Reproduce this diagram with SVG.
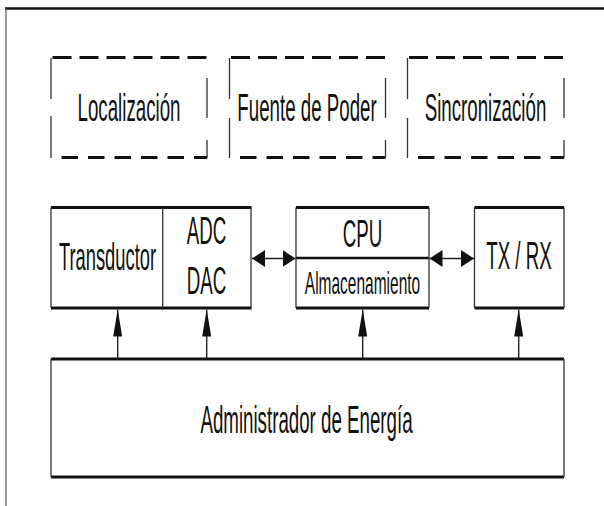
<svg xmlns="http://www.w3.org/2000/svg" width="604" height="506" viewBox="0 0 604 506">
<style>
  .bg{fill:#ffffff}
  .frameT{stroke:#111;stroke-width:2.3;fill:none}
  .frameL{stroke:#555;stroke-width:1.2;fill:none}
  .hz{stroke:#111;stroke-width:2.8;fill:none}
  .vt{stroke:#333;stroke-width:1.3;fill:none}
  .dt{stroke:#111;stroke-width:3;stroke-dasharray:19 8;fill:none}
  .db{stroke:#111;stroke-width:3;stroke-dasharray:16.5 10;fill:none}
  .ds{stroke:#333;stroke-width:1.3;fill:none}
  .conn{stroke:#222;stroke-width:1.4;fill:none}
  .t{font-family:"Liberation Sans",Arial,sans-serif;font-size:39px;fill:#111;text-anchor:middle}
  .ts{font-family:"Liberation Sans",Arial,sans-serif;font-size:31px;fill:#111;text-anchor:middle}
</style>
<defs>
  <marker id="ah" viewBox="0 0 13 17" refX="13" refY="8.5" markerWidth="13" markerHeight="17" markerUnits="userSpaceOnUse" orient="auto-start-reverse">
    <path d="M0,0 L13,8.5 L0,17 z" fill="#111"/>
  </marker>
  <marker id="av" viewBox="0 0 27 9" refX="27" refY="4.5" markerWidth="27" markerHeight="9" markerUnits="userSpaceOnUse" orient="auto">
    <path d="M0,0 L27,4.5 L0,9 z" fill="#111"/>
  </marker>
</defs>
<rect class="bg" x="0" y="0" width="604" height="506"/>
<g id="frame">
  <path class="frameT" d="M5,8.5 H604"/>
  <path class="frameL" d="M6,8 V506"/>
</g>

<g id="localizacion">
  <path class="dt" d="M52.5,57.5 H207"/>
  <path class="db" d="M61.5,157.5 H207"/>
  <path class="ds" d="M51,58 V99 M51,116 V158"/>
  <path class="ds" d="M207,78 V118 M207,140 V158"/>
  <text class="t" transform="translate(129,120.7) scale(0.48,1)">Localización</text>
</g>
<g id="fuente">
  <path class="dt" d="M231,57.5 H385.5"/>
  <path class="db" d="M240,157.5 H385.5"/>
  <path class="ds" d="M229.5,58 V99 M229.5,118 V158"/>
  <path class="ds" d="M385.5,78 V118 M385.5,140 V158"/>
  <text class="t" transform="translate(307,120.7) scale(0.48,1)">Fuente de Poder</text>
</g>
<g id="sincronizacion">
  <path class="dt" d="M409,57.5 H564"/>
  <path class="db" d="M418,157.5 H564"/>
  <path class="ds" d="M407.5,58 V99 M407.5,118 V158"/>
  <path class="ds" d="M564,78 V118 M564,140 V158"/>
  <text class="t" transform="translate(485.5,120.7) scale(0.48,1)">Sincronización</text>
</g>

<g id="transductor">
  <path class="hz" d="M51,207.5 H163"/>
  <path class="hz" d="M51,308 H163"/>
  <path class="vt" d="M51,207.5 V308"/>
  <text class="t" transform="translate(107.5,270) scale(0.47,1)">Transductor</text>
</g>
<g id="adc-dac">
  <path class="hz" d="M162.5,207.5 H251.5"/>
  <path class="hz" d="M162.5,308 H251.5"/>
  <path class="vt" d="M162.7,207.5 V308 M251,207.5 V308"/>
  <text class="t" transform="translate(206.5,244) scale(0.48,1)">ADC</text>
  <text class="t" transform="translate(206.5,294) scale(0.48,1)">DAC</text>
</g>
<g id="cpu">
  <path class="hz" d="M296,207.5 H429"/>
  <path class="hz" d="M296,308 H429"/>
  <path class="hz" d="M296,258 H429" style="stroke-width:2.4"/>
  <path class="vt" d="M296,207.5 V308 M429,207.5 V308"/>
  <text class="t" transform="translate(362.5,246.5) scale(0.48,1)">CPU</text>
  <text class="ts" transform="translate(362.5,293.5) scale(0.5,1)">Almacenamiento</text>
</g>
<g id="txrx">
  <path class="hz" d="M474.5,207.5 H564"/>
  <path class="hz" d="M474.5,308 H564"/>
  <path class="vt" d="M474.5,207.5 V308 M564,207.5 V308"/>
  <text class="t" transform="translate(519,269) scale(0.48,1)">TX / RX</text>
</g>
<g id="energia">
  <path class="hz" d="M51,359 H564"/>
  <path class="hz" d="M51,477 H564"/>
  <path class="vt" d="M51,359 V477 M564,359 V477"/>
  <text class="t" transform="translate(306.5,433) scale(0.48,1)">Administrador de Energía</text>
</g>

<g id="connectors">
  <path class="conn" d="M252,258.5 H295.5" marker-start="url(#ah)" marker-end="url(#ah)"/>
  <path class="conn" d="M429.5,258.5 H474" marker-start="url(#ah)" marker-end="url(#ah)"/>
  <path class="conn" d="M117.7,358 V309.5" marker-end="url(#av)"/>
  <path class="conn" d="M206.7,358 V309.5" marker-end="url(#av)"/>
  <path class="conn" d="M362.7,358 V309.5" marker-end="url(#av)"/>
  <path class="conn" d="M518.7,358 V309.5" marker-end="url(#av)"/>
</g>
</svg>
